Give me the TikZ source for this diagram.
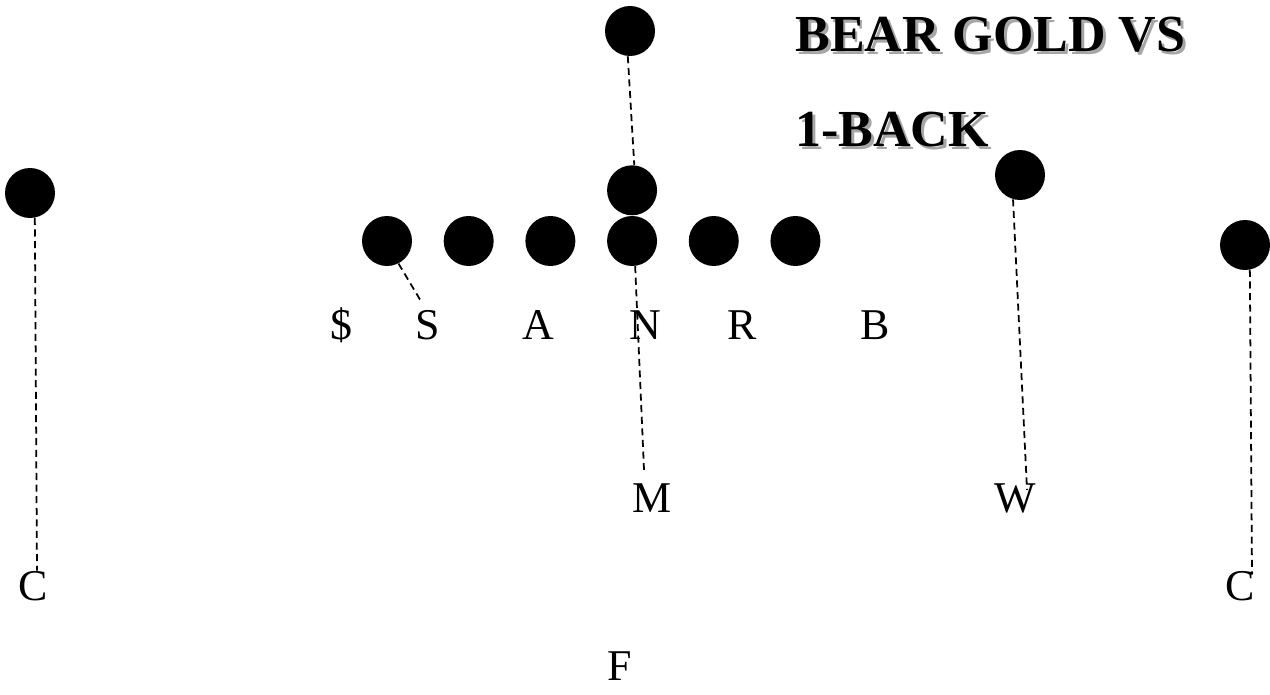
\documentclass[tikz,border=0pt]{standalone}
\usepackage{fontspec}
\setmainfont{Liberation Serif}
\usetikzlibrary{positioning}
\newcommand{\shadowed}[1]{\makebox[0pt][l]{\hspace{1.6pt}\raisebox{-1.6pt}{\color{black!35}#1}}#1}

\begin{document}
\begin{tikzpicture}[
        x=0.02cm, y=-0.02cm,
        node distance=0.62cm,
        player/.style={circle, fill=black, minimum size=1cm, inner sep=0pt},
        tag/.style={font=\fontsize{25}{25}\selectfont, inner sep=0pt, anchor=base},
        title/.style={font=\fontsize{29.6}{30}\selectfont\bfseries, inner sep=0pt, anchor=base west},
        route/.style={dash pattern=on 4pt off 2.6pt, line width=1pt}
    ]
    \useasboundingbox (0,0) rectangle (1270,695);

    % offense
    \node[player] (ol1) at (387,241) {};
    \node[player, right=of ol1] (ol2) {};
    \node[player, right=of ol2] (ol3) {};
    \node[player, right=of ol3] (ol4) {};
    \node[player, right=of ol4] (ol5) {};
    \node[player, right=of ol5] (ol6) {};
    \node[player, above=0cm of ol4] (qb) {};
    \node[player] (rb) at (630,31) {};
    \node[player] (wrl) at (30,193) {};
    \node[player] (slot) at (1020,175) {};
    \node[player] (wrr) at (1245,245) {};

    % defense
    \node[tag] (dl) at (341,340) {\$};
    \node[tag] (s) at (428,340) {S};
    \node[tag] (a) at (538,340) {A};
    \node[tag] (n) at (645,340) {N};
    \node[tag] (r) at (742,340) {R};
    \node[tag] (b) at (875,340) {B};
    \node[tag] (m) at (652,512) {M};
    \node[tag] (w) at (1015,512) {W};
    \node[tag] (lc) at (33,600) {C};
    \node[tag] (rc) at (1240,600) {C};
    \node[tag] (f) at (620,680) {F};

    \node[title] (head) at (795,52) {\shadowed{BEAR GOLD VS}};
    \node[title] (sub) at (795,147) {\shadowed{1-BACK}};

    \draw[route] (rb.265) -- (qb.85);
    \draw[route] (ol4.277) -- ([xshift=-0.16cm, yshift=0.26cm]m.north);
    \draw[route] (ol1.297) -- ([xshift=-0.16cm, yshift=0.22cm]s.north);
    \draw[route] (slot.254) -- ([xshift=0.24cm, yshift=-0.14cm]w.north);
    \draw[route] (wrl.281) -- ([xshift=0.08cm]lc.north);
    \draw[route] (wrr.281) -- ([xshift=0.24cm, yshift=-0.08cm]rc.north);

\end{tikzpicture}
\end{document}
